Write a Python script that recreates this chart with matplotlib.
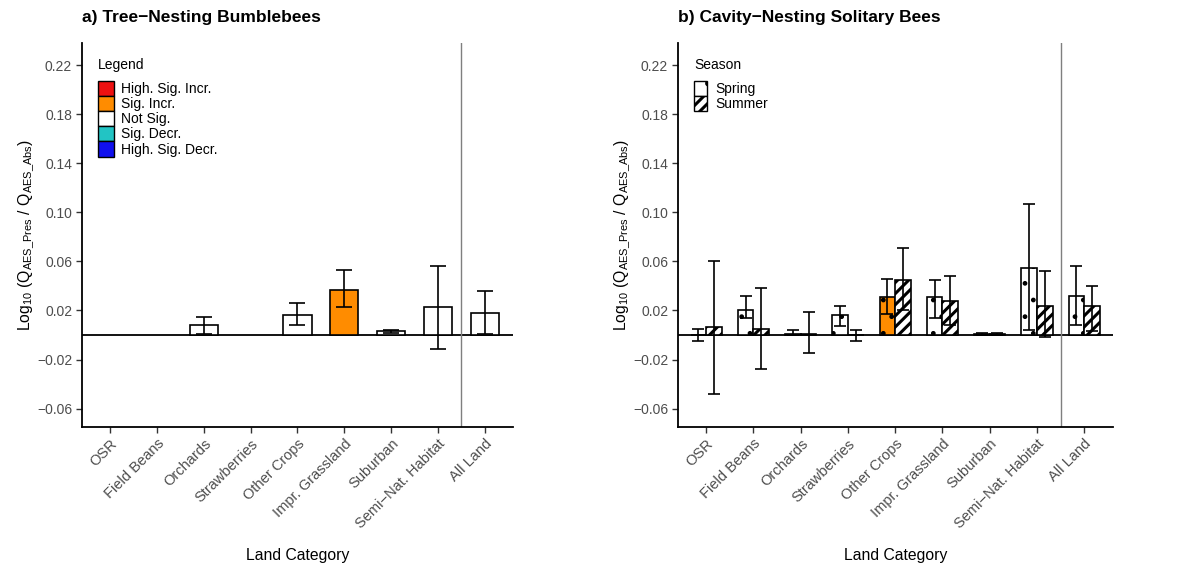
import numpy as np
import matplotlib
matplotlib.use("Agg")
import matplotlib.pyplot as plt
from matplotlib.patches import Patch

plt.rcParams["font.family"] = ["Liberation Sans", "DejaVu Sans"]
plt.rcParams["mathtext.fontset"] = "custom"
plt.rcParams["mathtext.rm"] = "Liberation Sans"
plt.rcParams["mathtext.it"] = "Liberation Sans:italic"
plt.rcParams["hatch.color"] = "black"

# ---- 数据 ----
categories = ["OSR", "Field Beans", "Orchards", "Strawberries", "Other Crops",
              "Impr. Grassland", "Suburban", "Semi\u2212Nat. Habitat", "All Land"]

# a) 树栖熊蜂（nan = 无柱）
bb_val = [np.nan, np.nan, 0.0081, np.nan, 0.0160, 0.0370, 0.0030, 0.0226, 0.0178]
bb_lo = [np.nan, np.nan, 0.0008, np.nan, 0.0080, 0.0226, 0.0020, -0.0113, 0.0008]
bb_hi = [np.nan, np.nan, 0.0145, np.nan, 0.0260, 0.0530, 0.0042, 0.0566, 0.0356]
bb_sig = ["Not Sig.", "Not Sig.", "Not Sig.", "Not Sig.", "Not Sig.",
          "Sig. Incr.", "Not Sig.", "Not Sig.", "Not Sig."]

# b) 洞巢独居蜂：春季 / 夏季
spr_val = [0.0003, 0.0200, 0.0010, 0.0160, 0.0310, 0.0310, 0.0010, 0.0550, 0.0320]
spr_lo = [-0.0050, 0.0140, 0.0000, 0.0070, 0.0170, 0.0140, 0.0000, 0.0040, 0.0080]
spr_hi = [0.0050, 0.0320, 0.0040, 0.0240, 0.0460, 0.0450, 0.0020, 0.1070, 0.0566]
spr_sig = ["Not Sig.", "Not Sig.", "Not Sig.", "Not Sig.", "Sig. Incr.",
           "Not Sig.", "Not Sig.", "Not Sig.", "Not Sig."]
sum_val = [0.0065, 0.0050, 0.0005, 0.0002, 0.0450, 0.0275, 0.0008, 0.0240, 0.0240]
sum_lo = [-0.0485, -0.0280, -0.0150, -0.0050, 0.0200, 0.0080, 0.0000, -0.0016, 0.0030]
sum_hi = [0.0600, 0.0380, 0.0190, 0.0040, 0.0710, 0.0480, 0.0015, 0.0520, 0.0400]

sig_levels = ["High. Sig. Incr.", "Sig. Incr.", "Not Sig.", "Sig. Decr.", "High. Sig. Decr."]
sig_colors = {"High. Sig. Incr.": "#EE1111", "Sig. Incr.": "#FF8C00", "Not Sig.": "#FFFFFF",
              "Sig. Decr.": "#22C4C4", "High. Sig. Decr.": "#1010EE"}

yticks = [-0.06, -0.02, 0.02, 0.06, 0.10, 0.14, 0.18, 0.22]
ytick_labels = ["\u22120.06", "\u22120.02", "0.02", "0.06", "0.10", "0.14", "0.18", "0.22"]

GREY = "#4D4D4D"
x = np.arange(1, len(categories) + 1)

fig = plt.figure(figsize=(11.81, 5.63), dpi=100)
axa = fig.add_axes([0.0694, 0.2416, 0.365, 0.682])
axb = fig.add_axes([0.574, 0.2416, 0.368, 0.682])


def style_axis(ax, title):
    ax.set_xlim(0.4, 9.6)
    ax.set_ylim(-0.075, 0.238)
    for s in ["top", "right"]:
        ax.spines[s].set_visible(False)
    for s in ["left", "bottom"]:
        ax.spines[s].set_linewidth(1.3)
    ax.axhline(0, color="black", lw=1.3, zorder=1)
    ax.axvline(8.5, color="#7F7F7F", lw=1.0, zorder=1)
    ax.set_xticks(x)
    ax.set_xticklabels(categories, rotation=45, ha="right", rotation_mode="anchor",
                       fontsize=10.5, color=GREY)
    ax.set_yticks(yticks)
    ax.set_yticklabels(ytick_labels, fontsize=10, color=GREY)
    ax.tick_params(length=4, color="#333333", width=1, pad=3)
    ax.set_xlabel("Land Category", fontsize=11.3, labelpad=12)
    ax.set_ylabel(r"Log$_{10}$ (Q$_{\mathrm{AES\_Pres}}$ / Q$_{\mathrm{AES\_Abs}}$)",
                  fontsize=11.3, labelpad=1)
    ax.set_title(title, loc="left", fontsize=12.5, fontweight="bold", pad=15)


# ---- a) ----
style_axis(axa, "a) Tree\u2212Nesting Bumblebees")
ok = ~np.isnan(bb_val)
axa.bar(x[ok], np.array(bb_val)[ok], width=0.6,
        color=[sig_colors[s] for s, k in zip(bb_sig, ok) if k],
        edgecolor="black", linewidth=1.2, zorder=2)
v = np.array(bb_val)[ok]
axa.errorbar(x[ok], v, yerr=[v - np.array(bb_lo)[ok], np.array(bb_hi)[ok] - v],
             fmt="none", ecolor="black", elinewidth=1.2, capsize=6, capthick=1.2, zorder=3)
handles = [Patch(facecolor=sig_colors[s], edgecolor="black", label=s) for s in sig_levels]
leg = axa.legend(handles=handles, title="Legend", loc="upper left",
                 bbox_to_anchor=(0.025, 0.975), frameon=False, fontsize=10,
                 title_fontsize=10, handlelength=1.1, handleheight=1.3,
                 labelspacing=0.0, handletextpad=0.5, borderaxespad=0)
leg._legend_box.align = "left"
leg._legend_box.sep = 6

# ---- b) ----
style_axis(axb, "b) Cavity\u2212Nesting Solitary Bees")
plt.rcParams["hatch.linewidth"] = 1.0
w = 0.33
sv = np.array(spr_val)
axb.bar(x - w / 2, sv, width=w, color=[sig_colors[s] for s in spr_sig],
        edgecolor="black", linewidth=1.2, hatch=".", zorder=2)
axb.errorbar(x - w / 2, sv, yerr=[sv - np.array(spr_lo), np.array(spr_hi) - sv],
             fmt="none", ecolor="black", elinewidth=1.2, capsize=4, capthick=1.2, zorder=3)
mv = np.array(sum_val)
plt.rcParams["hatch.linewidth"] = 2.2
axb.bar(x + w / 2, mv, width=w, color="white",
        edgecolor="black", linewidth=1.2, hatch="///", zorder=2)
axb.errorbar(x + w / 2, mv, yerr=[mv - np.array(sum_lo), np.array(sum_hi) - mv],
             fmt="none", ecolor="black", elinewidth=1.2, capsize=4, capthick=1.2, zorder=3)
season_handles = [Patch(facecolor="white", edgecolor="black", hatch=".", label="Spring"),
                  Patch(facecolor="white", edgecolor="black", hatch="///", label="Summer")]
leg2 = axb.legend(handles=season_handles, title="Season", loc="upper left",
                  bbox_to_anchor=(0.025, 0.975), frameon=False, fontsize=10,
                  title_fontsize=10, handlelength=0.9, handleheight=1.3,
                  labelspacing=0.0, handletextpad=0.6, borderaxespad=0)
leg2._legend_box.align = "left"
leg2._legend_box.sep = 6

fig.savefig("out.png", dpi=100)
